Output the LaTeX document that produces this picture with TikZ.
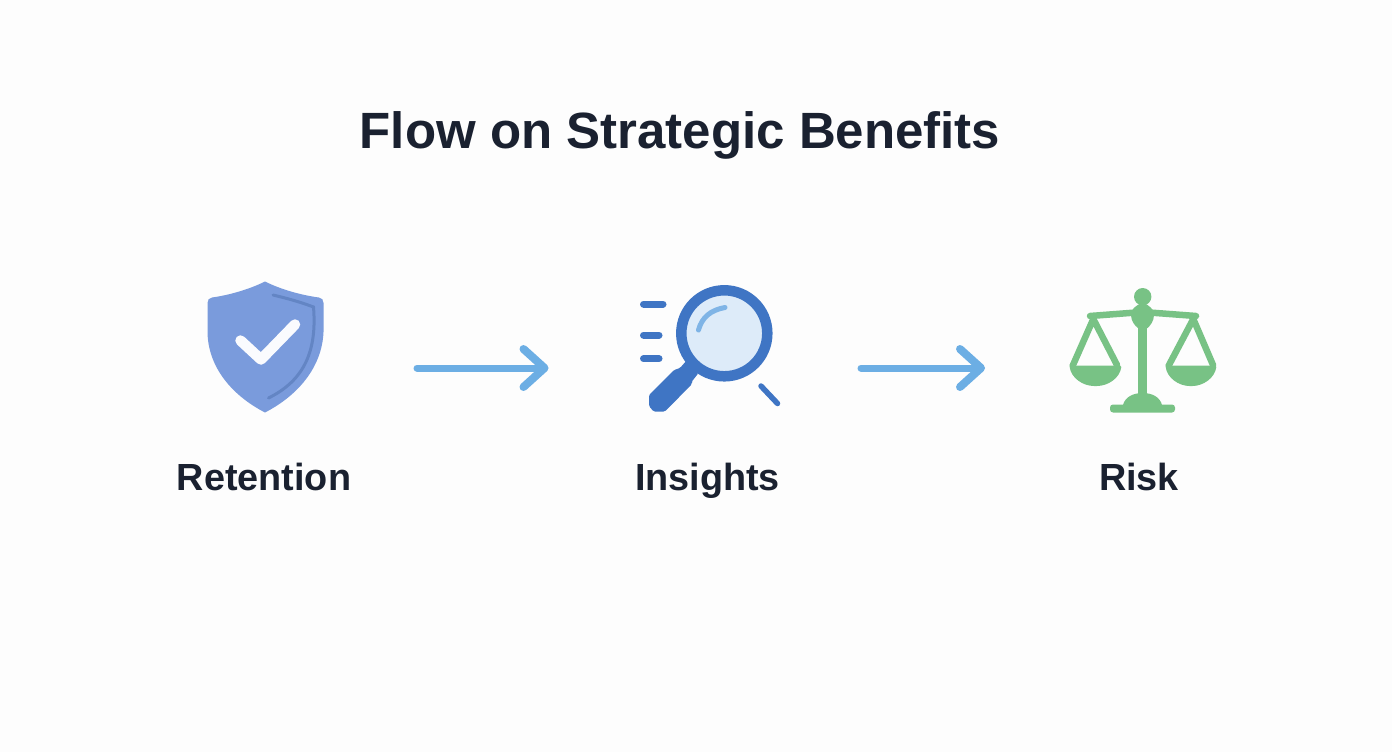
\documentclass[tikz,border=0pt]{standalone}
\usepackage{fontspec}
\setmainfont{Liberation Sans}
\definecolor{ink}{HTML}{1A2130}
\definecolor{shieldfill}{HTML}{7A9BDC}
\definecolor{shieldline}{HTML}{6385C4}
\definecolor{arrowblue}{HTML}{6CAEE4}
\definecolor{lensring}{HTML}{3F75C4}
\definecolor{lensfill}{HTML}{DDEBF9}
\definecolor{glint}{HTML}{7FB4E6}
\definecolor{scalegreen}{HTML}{78C285}
\definecolor{paper}{HTML}{FDFDFD}
\tikzset{
  titletext/.style={font=\bfseries\fontsize{51}{54}\selectfont,text=ink,anchor=base,inner sep=0pt},
  labeltext/.style={font=\bfseries\fontsize{37.8}{40}\selectfont,text=ink,anchor=base,inner sep=0pt},
  flowarrow/.style={draw=arrowblue,line width=7pt,line cap=round,line join=round},
  tick/.style={draw=lensring,line width=7pt,line cap=round},
  beamline/.style={draw=scalegreen,line width=6.5pt,line cap=round,line join=round},
}
\begin{document}
\begin{tikzpicture}[x=1pt,y=-1pt]
\useasboundingbox (0,0) rectangle (1392,752);
\fill[paper] (0,0) rectangle (1392,752);
\node[titletext] (title) at (680,148) {Flow on Strategic Benefits};
% shield
\fill[shieldfill] (265,281.5) .. controls (250,289) and (230,295) .. (212,297.5)
  .. controls (209,298) and (207.5,300) .. (207.5,303)
  -- (207.5,332) .. controls (208,368) and (233,396) .. (265,412.5)
  .. controls (297,396) and (322,368) .. (323.5,332) -- (323.5,303)
  .. controls (323.5,300) and (322,298) .. (319,297.5)
  .. controls (300,295) and (280,289) .. (265,281.5) -- cycle;
\draw[shieldline,line width=3pt,line cap=round] (273,295) .. controls (290,299) and (303,303) .. (313.5,307)
  .. controls (317,350) and (305,380) .. (268.5,398);
\draw[white!96!shieldfill,line width=10.5pt,line cap=round,line join=round] (240.5,340.5) -- (261,359.5) -- (295,324.5);
% magnifier
\fill[lensring,rounded corners=1.5pt] (674,370) -- (680,368) -- (687,360) -- (698.5,373) -- (691.5,382) -- (692,384) -- (665,411.5) -- (653.5,411.5) -- (649,406) -- (649,395) -- cycle;
\draw[lensring,fill=lensfill,line width=10.5pt] (724.3,333.3) circle (43);
\draw[glint,line width=5pt,line cap=round] (698.5,330) .. controls (702,317) and (711,310) .. (725,307.5);
\draw[tick] (643.5,304) -- (663,304);
\draw[tick] (643.5,335) -- (659,335);
\draw[tick] (643.5,358.7) -- (659,358.7);
\draw[tick,line width=5.5pt] (761,386) -- (777.5,403.5);
% scales
\fill[scalegreen] (1142.7,296.7) circle (8.7);
\fill[scalegreen] (1142.7,303) .. controls (1150,305) and (1154,310) .. (1154,315) .. controls (1154,321) and (1150,326) .. (1147.5,328)
  -- (1138,328) .. controls (1135,326) and (1131,321) .. (1131,315) .. controls (1131,310) and (1135,305) .. (1142.7,303) -- cycle;
\draw[beamline] (1090,316) -- (1142.7,312) -- (1196,316);
\fill[scalegreen] (1138.2,320) rectangle (1147.2,400);
\draw[beamline] (1073,365) -- (1093.3,319) -- (1117,365);
\draw[beamline] (1169,365) -- (1193.3,319) -- (1213,365);
\fill[scalegreen,rounded corners=1.5pt] (1069.5,365.5) -- (1121.5,365.5) .. controls (1120,378) and (1108,386) .. (1095.5,386) .. controls (1083,386) and (1071,378) .. (1069.5,365.5) -- cycle;
\fill[scalegreen,rounded corners=1.5pt] (1165.5,365.5) -- (1216.5,365.5) .. controls (1215,378) and (1203,386) .. (1191,386) .. controls (1179,386) and (1167,378) .. (1165.5,365.5) -- cycle;
\fill[scalegreen] (1123,405) .. controls (1125,397) and (1133,393) .. (1142.7,393) .. controls (1152,393) and (1160,397) .. (1162,405) -- cycle;
\fill[scalegreen,rounded corners=3pt] (1110,404.5) rectangle (1175,412.5);
% labels
\node[labeltext] (retention) at (264,490) {Retention};
\node[labeltext] (insights) at (707.5,490) {Insights};
\node[labeltext] (risk) at (1139,490) {Risk};
% arrows
\coordinate (a1s) at (417,368); \coordinate (a1e) at (544.5,368);
\coordinate (a2s) at (861,368); \coordinate (a2e) at (981,368);
\draw[flowarrow] (a1s) -- (a1e);
\draw[flowarrow,line width=8pt] ([xshift=-21pt,yshift=-19pt]a1e) -- (a1e) -- ([xshift=-21pt,yshift=19pt]a1e);
\draw[flowarrow] (a2s) -- (a2e);
\draw[flowarrow,line width=8pt] ([xshift=-21pt,yshift=-19pt]a2e) -- (a2e) -- ([xshift=-21pt,yshift=19pt]a2e);
\end{tikzpicture}
\end{document}
